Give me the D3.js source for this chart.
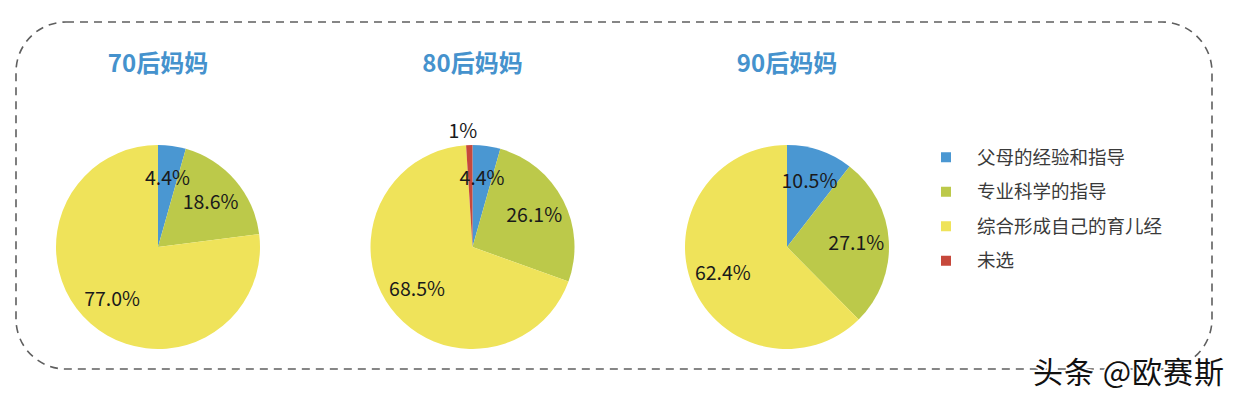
<!DOCTYPE html>
<html>
<head>
<meta charset="utf-8">
<script src="https://cdn.jsdelivr.net/npm/d3@7"></script>
<style>
  body { margin: 0; background: #fff; }
  text { font-family: "Noto Sans CJK SC", "Noto Sans", sans-serif; }
</style>
</head>
<body>
<div id="chart"></div>
<script>
const W = 1240, H = 399;

// data
const groups = ["70后妈妈", "80后妈妈", "90后妈妈"];
const categories = ["父母的经验和指导", "专业科学的指导", "综合形成自己的育儿经", "未选"];
const colors = ["#4a97d2", "#bcc94a", "#efe35a", "#c6483b"];
const values70 = [4.4, 18.6, 77.0, 0];
const values80 = [4.4, 26.1, 68.5, 1];
const values90 = [10.5, 27.1, 62.4, 0];
const labels70 = ["4.4%", "18.6%", "77.0%", ""];
const labels80 = ["4.4%", "26.1%", "68.5%", "1%"];
const labels90 = ["10.5%", "27.1%", "62.4%", ""];
const series = [values70, values80, values90];
const seriesLabels = [labels70, labels80, labels90];

const svg = d3.select("#chart").append("svg")
  .attr("width", W).attr("height", H);

// dashed rounded frame
svg.append("rect")
  .attr("x", 16).attr("y", 22)
  .attr("width", 1196).attr("height", 347)
  .attr("rx", 50).attr("ry", 50)
  .attr("fill", "none")
  .attr("stroke", "#5f5f5f")
  .attr("stroke-width", 1.6)
  .attr("stroke-dasharray", "8,6");

const R = 102;
const xCenter = d3.scalePoint().domain(groups).range([158, 787]);
const cy = 247;

const pie = d3.pie().sort(null).value(d => d);
const arc = d3.arc().innerRadius(0).outerRadius(R);
const labelArc = d3.arc().innerRadius(R * 0.68).outerRadius(R * 0.68);
const outerArc = d3.arc().innerRadius(R * 1.14).outerRadius(R * 1.14);

groups.forEach((g, gi) => {
  const cx = xCenter(g);
  const gp = svg.append("g").attr("transform", `translate(${cx},${cy})`);

  svg.append("text")
    .attr("x", cx).attr("y", 72)
    .attr("text-anchor", "middle")
    .attr("font-size", 24)
    .attr("font-weight", "bold")
    .attr("fill", "#4592cd")
    .text(g);

  const arcs = pie(series[gi]);
  gp.selectAll("path").data(arcs).enter().append("path")
    .attr("d", arc)
    .attr("fill", (d, i) => colors[i]);

  gp.selectAll("text.lbl").data(arcs).enter().append("text")
    .attr("class", "lbl")
    .attr("transform", d => {
      const small = d.data > 0 && d.data < 2;
      const c = small ? outerArc.centroid(d) : labelArc.centroid(d);
      return `translate(${c[0] - (small ? 6 : 0)},${c[1]})`;
    })
    .attr("text-anchor", "middle")
    .attr("dy", "0.36em")
    .attr("font-size", 19.5)
    .attr("fill", "#1a1a1a")
    .text((d, i) => d.data > 0 ? seriesLabels[gi][i] : "");
});

// legend
const ly = d3.scaleBand().domain(categories).range([140, 278]);
const legend = svg.append("g");
categories.forEach((c, i) => {
  const y = ly(c) + ly.bandwidth() / 2;
  legend.append("rect")
    .attr("x", 941).attr("y", y - 5)
    .attr("width", 10).attr("height", 10)
    .attr("fill", colors[i]);
  legend.append("text")
    .attr("x", 977).attr("y", y)
    .attr("dy", "0.36em")
    .attr("font-size", 18.5)
    .attr("fill", "#3a3a3a")
    .text(c);
});

// watermark
svg.append("text")
  .attr("x", 1033).attr("y", 383)
  .attr("font-size", 30)
  .attr("fill", "#111")
  .attr("stroke", "#fff")
  .attr("stroke-width", 3)
  .attr("paint-order", "stroke")
  .attr("letter-spacing", 1)
  .text("头条 @欧赛斯");
</script>
</body>
</html>
